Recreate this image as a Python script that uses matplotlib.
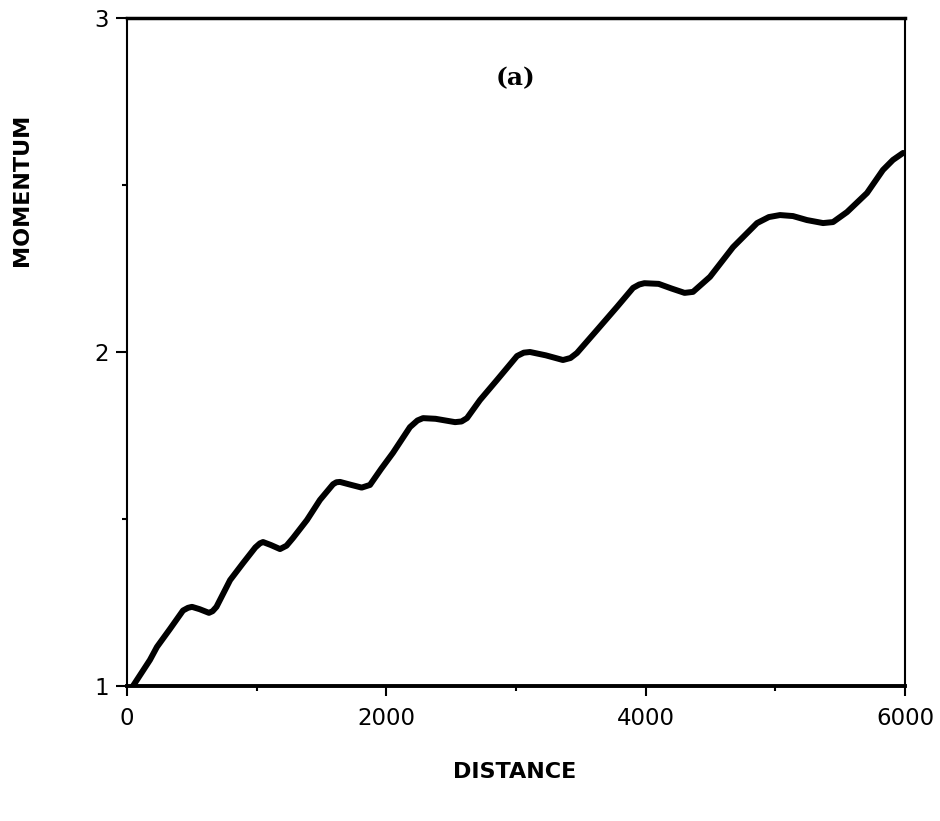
import matplotlib
matplotlib.use("Agg")
import matplotlib.pyplot as plt
from matplotlib.ticker import FixedLocator

distance = [46, 177, 231, 330, 432, 470, 501, 560, 632, 660, 690, 795, 895,
            990, 1025, 1049, 1110, 1180, 1230, 1280, 1388, 1488, 1589, 1615,
            1643, 1720, 1810, 1874, 1960, 2051, 2182, 2240, 2283, 2380, 2530,
            2580, 2622, 2722, 2853, 3008, 3060, 3108, 3230, 3362, 3420, 3470,
            3625, 3779, 3903, 3950, 3990, 4100, 4200, 4300, 4365, 4496, 4674,
            4859, 4950, 5036, 5136, 5244, 5368, 5445, 5553, 5707, 5830, 5907,
            5985]
momentum = [1.000, 1.078, 1.117, 1.170, 1.226, 1.234, 1.237, 1.230, 1.219,
            1.224, 1.237, 1.317, 1.368, 1.415, 1.427, 1.431, 1.422, 1.410,
            1.420, 1.443, 1.497, 1.557, 1.604, 1.610, 1.611, 1.603, 1.594,
            1.602, 1.650, 1.698, 1.775, 1.795, 1.802, 1.800, 1.790, 1.792,
            1.802, 1.856, 1.916, 1.988, 1.998, 2.000, 1.990, 1.976, 1.982,
            1.997, 2.066, 2.135, 2.192, 2.202, 2.206, 2.204, 2.190, 2.177,
            2.180, 2.225, 2.314, 2.386, 2.404, 2.410, 2.407, 2.395, 2.386,
            2.389, 2.419, 2.476, 2.545, 2.575, 2.596]

x_ticks = [0, 2000, 4000, 6000]
x_minor = [1000, 3000, 5000]
y_ticks = [1, 2, 3]
y_minor = [1.5, 2.5]

fig = plt.figure(figsize=(9.4, 8.21), dpi=100)
ax = fig.add_axes([127/940, 1 - 686/821, (905-127)/940, (686-18)/821])

ax.plot(distance, momentum, color="black", lw=4.3, solid_joinstyle="round",
        solid_capstyle="round")

ax.set_xlim(0, 6000)
ax.set_ylim(1, 3)
ax.set_xticks(x_ticks)
ax.set_yticks(y_ticks)
ax.xaxis.set_minor_locator(FixedLocator(x_minor))
ax.yaxis.set_minor_locator(FixedLocator(y_minor))
ax.set_xticklabels([str(v) for v in x_ticks])
ax.set_yticklabels([str(v) for v in y_ticks])

ax.tick_params(axis="x", which="major", direction="out", length=7, width=1.5,
               pad=8, labelsize=16.5)
ax.tick_params(axis="y", which="major", direction="out", length=8, width=1.5,
               pad=5, labelsize=16.5)
ax.tick_params(which="minor", direction="out", length=3.5, width=1.5)
for lab in ax.get_xticklabels() + ax.get_yticklabels():
    lab.set_family("DejaVu Sans")

ax.spines["top"].set_linewidth(2.5)
ax.spines["bottom"].set_linewidth(2.8)
ax.spines["left"].set_linewidth(1.5)
ax.spines["right"].set_linewidth(1.5)

ax.text(3000, 2.82, "(a)", ha="center", va="center", fontsize=18,
        family="DejaVu Serif", fontweight="bold")

fig.text(22/940, 1 - 190/821, "MOMENTUM", rotation=90, ha="center",
         va="center", fontsize=16, fontweight="bold", family="DejaVu Sans")
fig.text(515/940, 1 - 772/821, "DISTANCE", ha="center", va="center",
         fontsize=16, fontweight="bold", family="DejaVu Sans")

fig.savefig("out.png", dpi=100, facecolor="white")
